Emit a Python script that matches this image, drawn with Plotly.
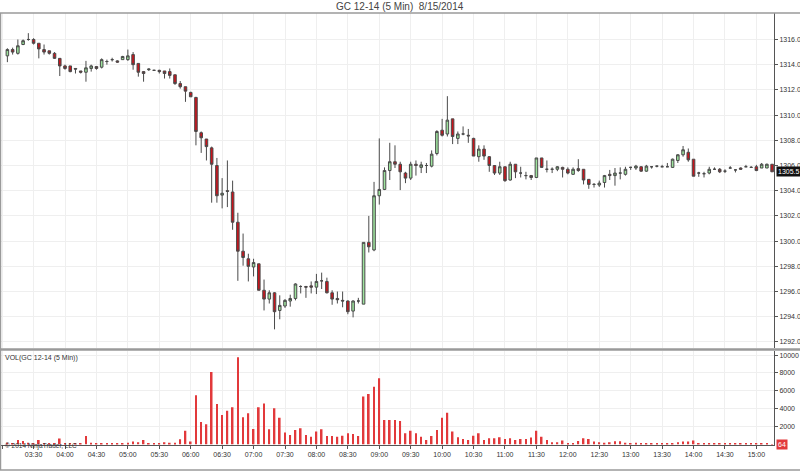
import pandas as pd
import plotly.graph_objects as go

# ---------------- data ----------------
start_time = "2014-08-15 03:05"
n_bars = 147
times = pd.date_range(start_time, periods=n_bars, freq="5min")

opens = [1314.7, 1315.2, 1314.9, 1315.6, 1316.0, 1316.0, 1315.7, 1315.2, 1315.1, 1314.9,
         1314.5, 1313.9, 1313.9, 1313.7, 1313.5, 1313.4, 1313.7, 1313.85, 1313.8, 1314.25,
         1314.4, 1314.3, 1314.4, 1314.4, 1314.8, 1314.1, 1313.45, 1313.6, 1313.55, 1313.55,
         1313.5, 1313.45, 1313.2, 1312.5, 1312.25, 1311.8, 1311.4, 1308.6, 1308.1, 1307.4,
         1306.0, 1303.65, 1304.0, 1303.9, 1301.5, 1299.2, 1298.6, 1297.95, 1298.2, 1296.1,
         1295.4, 1295.9, 1294.5, 1294.85, 1295.25, 1295.45, 1296.4, 1296.4, 1296.45, 1296.35,
         1296.85, 1296.8, 1295.9, 1295.45, 1295.3, 1295.25, 1294.45, 1295.25, 1295.0, 1299.9,
         1299.3, 1303.6, 1304.1, 1305.6, 1306.3, 1306.1, 1305.4, 1305.0, 1306.1, 1305.85,
         1306.0, 1305.95, 1306.95, 1308.8, 1308.5, 1309.7, 1308.15, 1308.5, 1308.4, 1308.15,
         1306.7, 1307.3, 1306.7, 1306.0, 1305.4, 1305.9, 1304.85, 1306.1, 1305.4, 1305.2,
         1305.2, 1305.05, 1306.6, 1305.7, 1305.7, 1305.7, 1305.85, 1305.7, 1305.3, 1305.75,
         1305.7, 1304.9, 1304.5, 1304.45, 1304.65, 1305.3, 1305.2, 1305.4, 1305.3, 1305.85,
         1305.8, 1305.9, 1305.55, 1305.9, 1305.95, 1305.9, 1305.9, 1305.85, 1306.4, 1306.85,
         1307.05, 1306.5, 1305.4, 1305.35, 1305.4, 1305.7, 1305.7, 1305.55, 1305.8, 1305.65,
         1305.8, 1305.9, 1305.85, 1305.9, 1305.8, 1305.8, 1306.1]

highs = [1315.3, 1315.35, 1316.0, 1316.0, 1316.5, 1316.1, 1315.7, 1315.6, 1315.1, 1315.0,
         1314.5, 1314.0, 1313.9, 1313.7, 1313.5, 1314.3, 1314.0, 1313.85, 1314.5, 1314.4,
         1314.55, 1314.35, 1314.7, 1315.2, 1315.0, 1314.1, 1313.5, 1313.7, 1313.6, 1313.6,
         1313.5, 1313.7, 1313.2, 1312.7, 1312.25, 1311.85, 1311.45, 1308.7, 1308.1, 1307.5,
         1306.6, 1305.0, 1306.4, 1304.8, 1302.25, 1300.6, 1299.0, 1298.6, 1298.2, 1296.95,
         1296.1, 1295.95, 1295.7, 1295.4, 1295.75, 1296.65, 1296.5, 1296.45, 1296.8, 1297.4,
         1297.5, 1297.1, 1296.1, 1296.0, 1296.0, 1295.3, 1295.3, 1295.5, 1299.9, 1302.0,
         1304.7, 1308.15, 1305.85, 1307.8, 1307.6, 1306.3, 1305.5, 1306.3, 1306.4, 1306.3,
         1306.2, 1307.2, 1308.8, 1309.7, 1311.5, 1309.7, 1308.7, 1309.1, 1308.9, 1308.2,
         1307.6, 1307.6, 1306.75, 1306.0, 1306.3, 1305.9, 1306.3, 1306.1, 1305.9, 1305.5,
         1305.25, 1306.6, 1306.6, 1306.4, 1305.85, 1305.95, 1305.9, 1305.85, 1305.85, 1306.5,
         1305.7, 1304.9, 1304.6, 1304.8, 1305.25, 1305.65, 1305.8, 1305.85, 1305.9, 1305.9,
         1306.05, 1305.95, 1306.05, 1305.95, 1306.0, 1306.05, 1306.2, 1306.55, 1306.9, 1307.55,
         1307.35, 1306.5, 1305.5, 1305.5, 1305.9, 1305.85, 1305.8, 1305.7, 1305.95, 1305.7,
         1305.85, 1306.05, 1305.95, 1306.05, 1306.2, 1306.15, 1306.1]

lows = [1314.2, 1314.8, 1314.8, 1315.55, 1315.9, 1315.6, 1314.5, 1314.8, 1314.8, 1314.45,
        1313.1, 1313.6, 1313.4, 1313.3, 1313.3, 1312.65, 1313.45, 1313.6, 1313.7, 1314.0,
        1314.25, 1314.15, 1314.4, 1314.3, 1313.6, 1313.05, 1312.65, 1313.5, 1313.5, 1313.3,
        1312.9, 1312.9, 1312.4, 1312.1, 1311.05, 1311.45, 1307.6, 1307.0, 1306.4, 1303.05,
        1303.05, 1302.6, 1302.7, 1300.9, 1296.85, 1298.05, 1296.8, 1297.2, 1296.1, 1294.5,
        1295.05, 1293.0, 1293.8, 1294.7, 1294.8, 1295.3, 1295.85, 1295.5, 1295.85, 1295.8,
        1296.2, 1295.85, 1294.95, 1295.05, 1294.75, 1294.2, 1293.95, 1295.05, 1295.0, 1299.1,
        1299.2, 1302.9, 1304.05, 1304.85, 1305.8, 1304.05, 1304.6, 1304.85, 1305.2, 1305.4,
        1305.4, 1305.85, 1306.8, 1308.3, 1308.3, 1307.7, 1307.7, 1308.4, 1307.8, 1306.75,
        1306.3, 1306.45, 1305.5, 1305.25, 1305.25, 1304.7, 1304.8, 1305.0, 1305.05, 1304.9,
        1304.85, 1305.0, 1305.8, 1305.45, 1305.4, 1305.55, 1305.05, 1305.3, 1305.25, 1305.5,
        1304.5, 1304.15, 1304.25, 1304.3, 1304.25, 1304.85, 1304.4, 1304.9, 1305.2, 1305.65,
        1305.65, 1305.5, 1305.5, 1305.75, 1305.85, 1305.9, 1305.9, 1305.8, 1306.2, 1306.7,
        1306.3, 1305.15, 1305.1, 1305.05, 1305.3, 1305.7, 1305.4, 1305.4, 1305.8, 1305.45,
        1305.65, 1305.9, 1305.85, 1305.55, 1305.8, 1305.8, 1305.5]

closes = [1315.2, 1315.0, 1315.5, 1315.9, 1316.0, 1315.7, 1315.25, 1315.0, 1314.9, 1314.5,
          1313.9, 1313.7, 1313.45, 1313.65, 1313.4, 1313.75, 1313.9, 1313.7, 1314.4, 1314.25,
          1314.4, 1314.2, 1314.65, 1314.7, 1314.0, 1313.4, 1313.3, 1313.65, 1313.55, 1313.45,
          1313.3, 1313.15, 1312.5, 1312.25, 1311.9, 1311.45, 1308.7, 1308.2, 1307.5, 1306.1,
          1303.6, 1303.8, 1303.95, 1301.5, 1299.2, 1298.7, 1298.0, 1298.3, 1296.1, 1295.4,
          1295.9, 1294.4, 1294.9, 1295.3, 1295.45, 1296.6, 1296.4, 1296.35, 1296.35, 1296.8,
          1296.85, 1295.9, 1295.4, 1295.35, 1295.25, 1294.4, 1295.25, 1295.25, 1299.9, 1299.55,
          1303.6, 1304.1, 1305.6, 1306.3, 1306.1, 1305.5, 1305.0, 1306.1, 1306.0, 1306.05,
          1306.0, 1306.9, 1308.7, 1308.4, 1309.6, 1308.3, 1308.5, 1308.5, 1308.35, 1306.75,
          1307.3, 1306.75, 1306.0, 1305.4, 1305.9, 1304.8, 1306.1, 1305.5, 1305.4, 1305.2,
          1305.05, 1306.6, 1305.85, 1305.7, 1305.7, 1305.9, 1305.7, 1305.4, 1305.7, 1305.6,
          1304.85, 1304.5, 1304.5, 1304.6, 1305.2, 1305.2, 1305.4, 1305.4, 1305.7, 1305.85,
          1305.95, 1305.55, 1305.95, 1305.9, 1305.95, 1305.9, 1305.9, 1306.5, 1306.85, 1307.25,
          1306.45, 1305.15, 1305.4, 1305.35, 1305.7, 1305.7, 1305.5, 1305.55, 1305.8, 1305.65,
          1305.7, 1305.9, 1305.85, 1305.6, 1306.1, 1306.1, 1305.5]

volumes = [220, 150, 520, 410, 220, 150, 520, 150, 150, 150,
           670, 150, 190, 190, 75, 970, 220, 150, 150, 150,
           110, 110, 150, 220, 335, 260, 520, 110, 75, 75,
           260, 220, 220, 595, 1560, 335, 5500, 2530, 2270, 8110,
           4540, 3310, 3790, 4170, 9750, 3050, 3500, 1750, 4170, 4600,
           1710, 4050, 3010, 1340, 1080, 1640, 1820, 1080, 890, 1450,
           1710, 970, 970, 890, 1000, 1260, 1190, 970, 5360, 5650,
           6470, 7400, 2750, 2750, 2750, 2640, 1260, 1560, 1260, 890,
           520, 970, 1640, 3010, 3570, 1450, 820, 630, 520, 1000,
           1260, 520, 710, 710, 820, 630, 710, 520, 630, 630,
           780, 1560, 890, 520, 260, 260, 450, 150, 150, 410,
           710, 630, 335, 260, 220, 260, 370, 370, 220, 150,
           220, 150, 150, 150, 150, 150, 150, 150, 260, 335,
           335, 450, 150, 110, 110, 75, 75, 75, 110, 75,
           75, 75, 75, 75, 75, 75, 64]

price_ticks = [1292, 1294, 1296, 1298, 1300, 1302, 1304, 1306, 1308, 1310, 1312, 1314, 1316]
volume_ticks = [2000, 4000, 6000, 8000, 10000]
title_text = "GC 12-14 (5 Min)\u00a0\u00a08/15/2014"
volume_label = "VOL(GC 12-14 (5 Min))"
copyright_text = "\u00a9 2014 NinjaTrader, LLC"

# ---------------- figure ----------------
W, H = 800, 472
FONT = "Liberation Sans, Arial, sans-serif"
GRID = "#efefef"
AXIS = "#555555"

def py(px):  # pixel row -> paper y
    return 1 - px / H

fig = go.Figure()
fig.add_trace(go.Candlestick(
    x=times, open=opens, high=highs, low=lows, close=closes,
    xaxis="x", yaxis="y", whiskerwidth=0,
    increasing=dict(line=dict(color="#4a4a4a", width=1), fillcolor="#9de39d"),
    decreasing=dict(line=dict(color="#4a4a4a", width=1), fillcolor="#c8141c"),
    showlegend=False, hoverinfo="skip"))

fig.add_trace(go.Bar(
    x=times, y=volumes, xaxis="x2", yaxis="y2", width=95000,
    marker=dict(color="#e2393b", line=dict(width=0)),
    showlegend=False, hoverinfo="skip"))

xrange = ["2014-08-15 02:58:54", "2014-08-15 15:16:48"]
xdom = [1 / W, 774 / W]

common_x = dict(type="date", range=xrange, domain=xdom, dtick=1800000,
                tick0="2014-08-15 03:30", showgrid=True, gridcolor=GRID,
                gridwidth=1, zeroline=False, fixedrange=True)

fig.update_layout(
    width=W, height=H, margin=dict(l=0, r=0, t=0, b=0),
    paper_bgcolor="white", plot_bgcolor="white",
    font=dict(family=FONT, size=7, color="#333333"),
    xaxis=dict(**common_x, anchor="y", showticklabels=False,
               rangeslider=dict(visible=False)),
    yaxis=dict(domain=[py(348), py(13)], range=[1291.52, 1318.1], side="right",
               tickvals=price_ticks, tickformat=".1f", ticks="outside", ticklen=3,
               tickcolor=AXIS, showgrid=True, gridcolor=GRID, zeroline=False,
               showline=True, linecolor=AXIS, linewidth=1,
               tickfont=dict(size=7, color="#333333"), anchor="x"),
    xaxis2=dict(**common_x, anchor="y2", matches="x", tickformat="%H:%M",
                ticks="outside", ticklen=3, tickcolor=AXIS, showline=True,
                linecolor=AXIS, linewidth=1, tickfont=dict(size=7, color="#333333")),
    yaxis2=dict(domain=[py(444.6), py(351)], range=[0, 10455], side="right",
                tickvals=volume_ticks, tickformat="d", ticks="outside", ticklen=3,
                tickcolor=AXIS, showgrid=True, gridcolor=GRID, zeroline=False,
                showline=True, linecolor=AXIS, linewidth=1,
                tickfont=dict(size=7, color="#333333"), anchor="x2"),
)

line_col = "#9a9a9a"
fig.update_layout(shapes=[
    dict(type="line", xref="paper", yref="paper", x0=0, x1=1, y0=py(13), y1=py(13),
         line=dict(color=line_col, width=1.5)),
    dict(type="line", xref="paper", yref="paper", x0=0.0006, x1=0.0006, y0=py(13), y1=py(470),
         line=dict(color=line_col, width=1.5)),
    dict(type="line", xref="paper", yref="paper", x0=0, x1=1, y0=py(349.5), y1=py(349.5),
         line=dict(color=line_col, width=2.5)),
    dict(type="line", xref="paper", yref="paper", x0=0, x1=1, y0=py(470), y1=py(470),
         line=dict(color=line_col, width=1.5)),
])

fig.update_layout(annotations=[
    dict(text=title_text, xref="paper", yref="paper", x=0.5, y=py(7),
         xanchor="center", yanchor="middle", showarrow=False,
         font=dict(size=10, color="#444444")),
    dict(text=volume_label, xref="paper", yref="paper", x=3 / W, y=py(358),
         xanchor="left", yanchor="middle", showarrow=False,
         font=dict(size=7, color="#333333")),
    dict(text=copyright_text, xref="paper", yref="paper", x=3 / W, y=py(446),
         xanchor="left", yanchor="middle", showarrow=False,
         font=dict(size=6.5, color="#333333")),
    dict(text=f"{closes[-1]:.1f}", xref="paper", yref="y", x=776 / W, y=closes[-1],
         xanchor="left", yanchor="middle", showarrow=False, bgcolor="#111111",
         borderpad=1, font=dict(size=7, color="white")),
    dict(text=str(volumes[-1]), xref="paper", yref="y2", x=776 / W, y=volumes[-1],
         xanchor="left", yanchor="middle", showarrow=False, bgcolor="#e2393b",
         borderpad=1, font=dict(size=7, color="white")),
])

fig.write_html("out.html")
